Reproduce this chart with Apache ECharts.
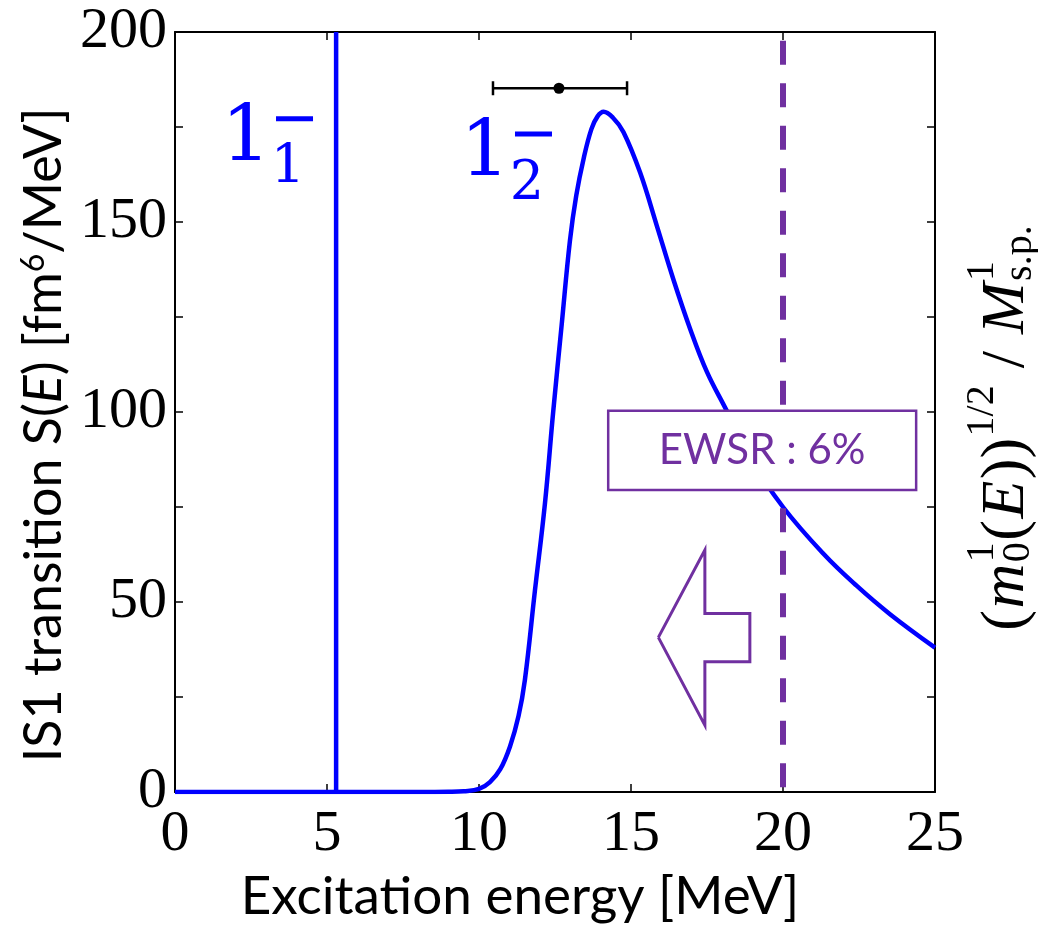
<!DOCTYPE html>
<html>
<head>
<meta charset="utf-8">
<script src="https://cdn.jsdelivr.net/npm/echarts@6/dist/echarts.min.js"></script>
<style>
html, body { margin: 0; padding: 0; background: #fff; }
#main { width: 1038px; height: 929px; }
</style>
</head>
<body>
<div id="main"></div>
<script>
// IS1 strength S(E) (MeV, fm^6/MeV)
var energy = [0, 5, 8, 9, 9.5, 10, 10.36, 10.7, 11.02, 11.3, 11.51, 11.84, 12.17, 12.44, 12.72, 12.99,
  13.2, 13.45, 13.7, 13.9, 14.1, 14.4, 14.75, 15.3, 15.85, 16.39, 16.94, 17.49, 18.15, 18.91, 20.0, 21.33, 22.42, 23.52, 25];
var strength = [0, 0, 0, 0.05, 0.2, 0.8, 2.6, 6, 12, 20, 29.5, 53, 76, 100, 123, 145,
  157, 167, 174.5, 177.8, 179, 177.5, 173.7, 163, 149, 135, 122, 110.7, 100.3, 88, 75, 62.7, 54.3, 46.8, 38];

// first 1- state (vertical line)
var state1E = 5.3;
// EWSR 6% limit
var ewsrE = 20;
var ewsrTop = 197.7;
// experimental point with its error bar
var expE = 12.63, expLow = 10.46, expHigh = 14.87, expS = 185.2;
// arrow outline (pointing left)
var arrowE = [15.90, 17.43, 17.43, 18.91, 18.91, 17.43, 17.43, 15.90];
var arrowS = [40.7, 63.7, 47.0, 47.0, 34.3, 34.3, 17.6, 40.7];
// EWSR box corners
var boxE = [14.25, 24.38];
var boxS = [79.5, 100.3];

var BLUE = '#0000ff';
var PURPLE = '#7030a0';

var chart = echarts.init(document.getElementById('main'));

function frameAxis(pos, extra) {
  var a = {
    type: 'value', position: pos,
    axisLine: { show: true, onZero: false, lineStyle: { color: '#000', width: 2 } },
    axisTick: { show: true, inside: true, length: 8, lineStyle: { color: '#000', width: 1.5 } },
    axisLabel: { show: false },
    splitLine: { show: false }
  };
  return Object.assign(a, extra);
}

var option = {
  animation: false,
  backgroundColor: '#fff',
  grid: { left: 175, right: 103, top: 32, bottom: 137 },
  xAxis: [
    frameAxis('bottom', {
      min: 0, max: 25, interval: 5,
      axisLabel: { show: true, color: '#000', fontFamily: 'Liberation Serif', fontSize: 58, margin: 14 }
    }),
    frameAxis('top', { min: 0, max: 25, interval: 5 })
  ],
  yAxis: [
    frameAxis('left', {
      min: 0, max: 200, interval: 25,
      axisLabel: {
        show: true, color: '#000', fontFamily: 'Liberation Serif', fontSize: 58, margin: 8,
        formatter: function (v) { return v % 50 === 0 ? String(v) : ''; }
      }
    }),
    frameAxis('right', { min: 0, max: 200, interval: 25 })
  ],
  series: [
    {
      name: 'S(E)', type: 'line', smooth: 0.4, showSymbol: false, z: 2,
      data: energy.map(function (e, i) { return [e, strength[i]]; }),
      lineStyle: { color: BLUE, width: 4.5 }
    },
    {
      name: '1-1', type: 'line', showSymbol: false, z: 2,
      data: [[state1E, 0], [state1E, 200]],
      lineStyle: { color: BLUE, width: 4.5 }
    },
    {
      name: 'EWSR line', type: 'line', showSymbol: false, z: 3,
      data: [[ewsrE, ewsrTop], [ewsrE, 0]],
      lineStyle: { color: PURPLE, width: 6, type: [24, 18.5] }
    },
    {
      name: 'arrow', type: 'line', showSymbol: false, z: 4,
      data: arrowE.map(function (e, i) { return [e, arrowS[i]]; }),
      lineStyle: { color: PURPLE, width: 3, join: 'miter' }
    },
    {
      name: 'exp', type: 'custom', z: 6,
      data: [[expE, expS]],
      renderItem: function (params, api) {
        var a = api.coord([expLow, expS]);
        var b = api.coord([expHigh, expS]);
        var c = api.coord([expE, expS]);
        var st = { stroke: '#000', lineWidth: 2.5 };
        return {
          type: 'group', children: [
            { type: 'line', shape: { x1: a[0], y1: a[1], x2: b[0], y2: b[1] }, style: st },
            { type: 'line', shape: { x1: a[0], y1: a[1] - 7, x2: a[0], y2: a[1] + 7 }, style: st },
            { type: 'line', shape: { x1: b[0], y1: b[1] - 7, x2: b[0], y2: b[1] + 7 }, style: st },
            { type: 'circle', shape: { cx: c[0], cy: c[1], r: 5.5 }, style: { fill: '#000' } }
          ]
        };
      }
    },
    {
      name: 'EWSR box', type: 'custom', z: 10,
      data: [[boxE[0], boxS[0]]],
      renderItem: function (params, api) {
        var p0 = api.coord([boxE[0], boxS[1]]);
        var p1 = api.coord([boxE[1], boxS[0]]);
        return {
          type: 'group', children: [
            {
              type: 'rect',
              shape: { x: p0[0], y: p0[1], width: p1[0] - p0[0], height: p1[1] - p0[1] },
              style: { fill: '#fff', stroke: PURPLE, lineWidth: 2.5 }
            },
            {
              type: 'text', x: (p0[0] + p1[0]) / 2, y: (p0[1] + p1[1]) / 2,
              style: {
                text: 'EWSR : 6%', fill: PURPLE, fontFamily: 'Lato', fontSize: 42,
                align: 'center', verticalAlign: 'middle'
              }
            }
          ]
        };
      }
    }
  ]
};
chart.setOption(option);

// ---- text annotations -------------------------------------------------
function px(e, s) { return chart.convertToPixel({ gridIndex: 0 }, [e, s]); }

var graphics = [];

// state labels 1_1^- and 1_2^-
function stateLabel(e, s, sub) {
  var p = px(e, s);
  graphics.push({
    type: 'text', x: p[0], y: p[1], z: 20,
    style: { text: '1', fill: BLUE, fontFamily: 'DejaVu Serif', fontSize: 78, align: 'center', verticalAlign: 'middle' }
  });
  graphics.push({
    type: 'text', x: p[0] + 42, y: p[1] + 29, z: 20,
    style: { text: sub, fill: BLUE, fontFamily: 'DejaVu Serif', fontSize: 54, align: 'center', verticalAlign: 'middle' }
  });
  graphics.push({
    type: 'rect', z: 20, shape: { x: p[0] + 30, y: p[1] - 24, width: 37, height: 5 },
    style: { fill: BLUE }
  });
}
stateLabel(2.336, 171.5, '1');
stateLabel(10.197, 167.5, '2');

// x axis title
graphics.push({
  type: 'text', x: 520, y: 897,
  style: { text: 'Excitation energy [MeV]', fill: '#000', fontFamily: 'Lato', fontSize: 53, align: 'center', verticalAlign: 'middle' }
});

// y axis title
graphics.push({
  type: 'text', x: 44, y: 435, rotation: Math.PI / 2,
  style: {
    text: 'IS1 transition S({i|E}) [fm{sup|6}/MeV]', fill: '#000', fontFamily: 'Lato', fontSize: 52,
    align: 'center', verticalAlign: 'middle',
    rich: {
      i: { fontFamily: 'Lato', fontSize: 52, fontStyle: 'italic', fill: '#000' },
      sup: { fontFamily: 'Lato', fontSize: 32, verticalAlign: 'top', fill: '#000' }
    }
  }
});

// right title (m^1_0(E))^{1/2} / M^1_{s.p.}, built piece by piece
var F = 62, S = 40, SUP = -32, GAP = 1.5;
var pieces = [
  { t: '(', fs: F },
  { t: 'm', fs: F, it: true },
  { stack: [{ t: '1', fs: S, dy: SUP }, { t: '0', fs: S, dy: 4 }] },
  { t: '(', fs: F },
  { t: 'E', fs: F, it: true },
  { t: '))', fs: F },
  { t: '1/2', fs: S, dy: SUP },
  { t: ' / ', fs: F },
  { t: 'M', fs: F, it: true },
  { stack: [{ t: '1', fs: S, dy: SUP }, { t: 's.p.', fs: S, dy: 6 }] }
];
var ctx = document.createElement('canvas').getContext('2d');
function fontOf(p) { return (p.it ? 'italic ' : '') + p.fs + 'px "Liberation Serif"'; }
function widthOf(p) { ctx.font = fontOf(p); return ctx.measureText(p.t).width; }
var kids = [];
var cursor = 0;
pieces.forEach(function (p, k) {
  var list = p.stack || [p];
  var adv = 0;
  list.forEach(function (q) {
    kids.push({
      type: 'text', x: cursor, y: (q.dy || 0) - 0.32 * q.fs,
      style: {
        text: q.t, fill: '#000', fontFamily: 'Liberation Serif', fontSize: q.fs,
        fontStyle: q.it ? 'italic' : 'normal', align: 'left', verticalAlign: 'middle'
      }
    });
    adv = Math.max(adv, widthOf(q));
  });
  cursor += adv + (k < pieces.length - 1 ? GAP : 0);
});
graphics.push({
  type: 'group', x: 1027, y: 428 + cursor / 2, rotation: Math.PI / 2,
  children: kids
});

chart.setOption({ graphic: graphics });
</script>
</body>
</html>
